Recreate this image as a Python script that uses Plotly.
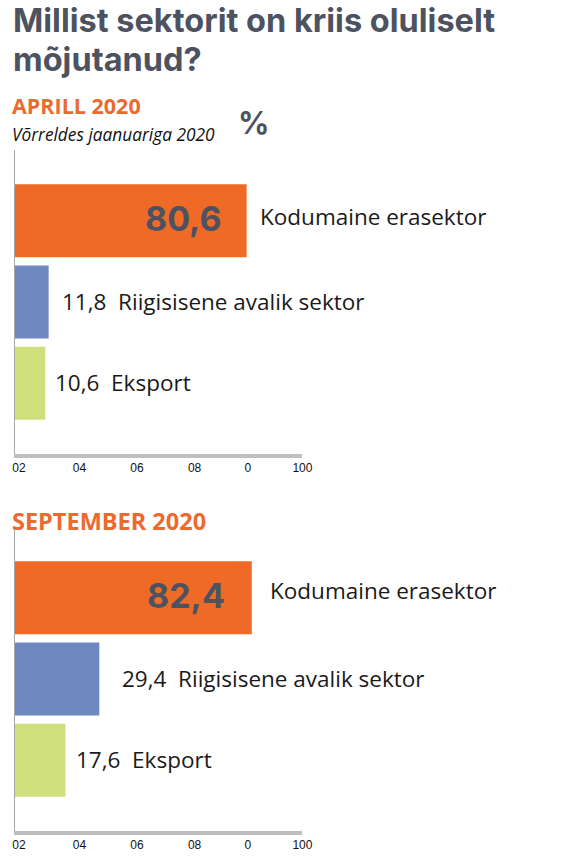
import plotly.graph_objects as go

# data
sectors = ["Kodumaine erasektor", "Riigisisene avalik sektor", "Eksport"]
april_values = [80.6, 11.8, 10.6]
september_values = [82.4, 29.4, 17.6]
bar_colors = ["#ef6a26", "#6d88bf", "#cedf7b"]
tick_text = ["02", "04", "06", "08", "0", "100"]
tick_vals = [1.5, 22.5, 42.5, 62.5, 81, 100]

W, H = 562, 859
TITLE_COLOR = "#4d5260"
ORANGE = "#ec6a2f"
TEXT_FONT = "Open Sans"


def fmt(v):
    return f"{v:.1f}".replace(".", ",")


def px_x(p):
    return p / W


def px_y(p):
    return 1 - p / H


fig = go.Figure()

# values, axes, plot top/bottom in px, label offsets (inside, name, small bars)
panels = [
    (april_values, "x", "y", 150, 454, dict(inside=-23, name=11, small=[11, 8], dy=4)),
    (september_values, "x2", "y2", 527, 831, dict(inside=-25, name=16, small=[21, 9], dy=7)),
]

annotations = []
for vals, xa, ya, top, bottom, off in panels:
    fig.add_trace(go.Bar(
        x=vals, y=sectors, orientation="h",
        marker=dict(color=bar_colors, line=dict(width=0)),
        xaxis=xa, yaxis=ya, hoverinfo="skip", showlegend=False,
    ))
    # big value inside the first bar
    annotations.append(dict(
        x=vals[0], y=sectors[0], xref=xa, yref=ya,
        text=fmt(vals[0]), showarrow=False, xanchor="right", xshift=off["inside"], yshift=2,
        font=dict(family="Inter", size=34, color=TITLE_COLOR, weight="bold"),
    ))
    annotations.append(dict(
        x=vals[0], y=sectors[0], xref=xa, yref=ya,
        text=sectors[0], showarrow=False, xanchor="left", xshift=off["name"], yshift=off["dy"],
        font=dict(family=TEXT_FONT, size=22.5, color="#1a1a1a"),
    ))
    for v, s, sh in zip(vals[1:], sectors[1:], off["small"]):
        annotations.append(dict(
            x=v, y=s, xref=xa, yref=ya,
            text=fmt(v) + "\u00a0\u00a0" + s, showarrow=False,
            xanchor="left", xshift=sh, yshift=1,
            font=dict(family=TEXT_FONT, size=22.5, color="#1a1a1a"),
        ))

# headings; the title uses a smaller base size so the two lines sit tight
annotations += [
    dict(x=px_x(9), y=px_y(40), xref="paper", yref="paper", xanchor="left", yanchor="middle",
         text="<span style='font-size:32.5px'>Millist sektorit on kriis oluliselt<br>mõjutanud?</span>",
         align="left", showarrow=False,
         font=dict(family="Inter", size=30, color=TITLE_COLOR, weight="bold")),
    dict(x=px_x(8), y=px_y(106), xref="paper", yref="paper", xanchor="left", yanchor="middle",
         text="APRILL 2020", showarrow=False,
         font=dict(family=TEXT_FONT, size=21.5, color=ORANGE, weight="bold")),
    dict(x=px_x(8), y=px_y(135), xref="paper", yref="paper", xanchor="left", yanchor="middle",
         text="<i>Võrreldes jaanuariga 2020</i>", showarrow=False,
         font=dict(family=TEXT_FONT, size=17.3, color="#111111")),
    dict(x=px_x(257), y=px_y(122), xref="paper", yref="paper", xanchor="center", yanchor="middle",
         text="%", showarrow=False,
         font=dict(family="Inter", size=31, color=TITLE_COLOR, weight="bold")),
    dict(x=px_x(8), y=px_y(521), xref="paper", yref="paper", xanchor="left", yanchor="middle",
         text="SEPTEMBER 2020", showarrow=False,
         font=dict(family=TEXT_FONT, size=23.5, color=ORANGE, weight="bold")),
]

xaxis_style = dict(
    range=[0, 100], domain=[px_x(13), px_x(307)],
    showgrid=False, zeroline=False, showline=True, linecolor="#bfbfbf", linewidth=3.5,
    ticks="", tickvals=tick_vals, ticktext=tick_text, fixedrange=True,
    tickfont=dict(family="Liberation Sans", size=12, color="#111111"),
)
yaxis_style = dict(
    range=[2.87, -0.87], showgrid=False, zeroline=False, showline=True,
    linecolor="#a6a6a6", linewidth=1, showticklabels=False, ticks="", fixedrange=True,
)

fig.update_layout(
    width=W, height=H,
    margin=dict(l=0, r=0, t=0, b=0),
    paper_bgcolor="white", plot_bgcolor="white",
    bargap=0.1,
    xaxis=dict(xaxis_style, anchor="y"),
    yaxis=dict(yaxis_style, domain=[px_y(454), px_y(150)], anchor="x"),
    xaxis2=dict(xaxis_style, anchor="y2"),
    yaxis2=dict(yaxis_style, domain=[px_y(831), px_y(527)], anchor="x2"),
    annotations=annotations,
)

# drop the default 8px body margin so the figure sits flush in the window
fig.write_html("out.html", config={"displayModeBar": False},
               post_script="document.body.style.margin='0';")
